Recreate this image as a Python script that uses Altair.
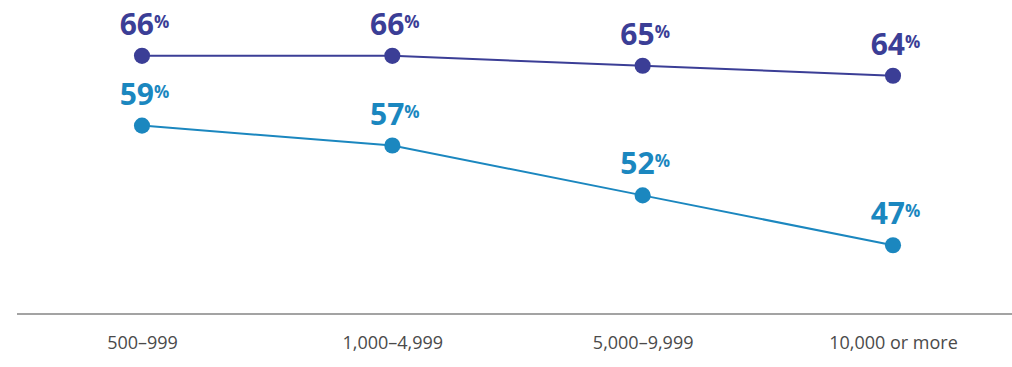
import altair as alt
import pandas as pd

categories = ["500–999", "1,000–4,999", "5,000–9,999", "10,000 or more"]
series_names = ["Series A", "Series B"]
series_a = [66, 66, 65, 64]
series_b = [59, 57, 52, 47]
colors = ["#3b3e96", "#1b87bf"]

rows = []
for name, vals in zip(series_names, [series_a, series_b]):
    for c, v in zip(categories, vals):
        rows.append({"cat": c, "series": name, "value": v})
df = pd.DataFrame(rows)

x = alt.X("cat:O", sort=categories,
          scale=alt.Scale(type="point", range=[125, 876], padding=0),
          axis=alt.Axis(title=None, labelAngle=0, ticks=False, grid=False, domain=False,
                        labelFont="Open Sans", labelFontSize=18, labelColor="#4a4a4a",
                        labelPadding=29, labelBaseline="middle"))
y = alt.Y("value:Q", scale=alt.Scale(domain=[40.1, 71.6], nice=False, zero=False), axis=None)
color = alt.Color("series:N", scale=alt.Scale(domain=series_names, range=colors), legend=None)

base = alt.Chart(df).encode(x=x, y=y, color=color)

baseline = alt.Chart(df).mark_rule(color="#a3a3a3", strokeWidth=2).encode(
    x=alt.value(0), x2=alt.value(995), y=alt.value(314))
lines = base.mark_line(strokeWidth=2)
points = base.mark_point(filled=True, opacity=1, size=260, shape="circle")
nums = base.mark_text(align="right", baseline="alphabetic", dx=12, dy=-21,
                      font="Open Sans", fontWeight="bold", fontSize=30).encode(
    text=alt.Text("value:Q"))
pct = base.mark_text(align="left", baseline="alphabetic", dx=12, dy=-28,
                     font="Open Sans", fontWeight="bold", fontSize=17).encode(
    text=alt.value("%"))

chart = alt.layer(baseline, lines, points, nums, pct).properties(
    width=995, height=314,
    autosize=alt.AutoSizeParams(type="none"),
    padding={"left": 17, "top": 0, "right": 0, "bottom": 53},
    background="white",
).configure_view(stroke=None)

chart.save("out.html", embed_options={"renderer": "svg", "actions": False})
